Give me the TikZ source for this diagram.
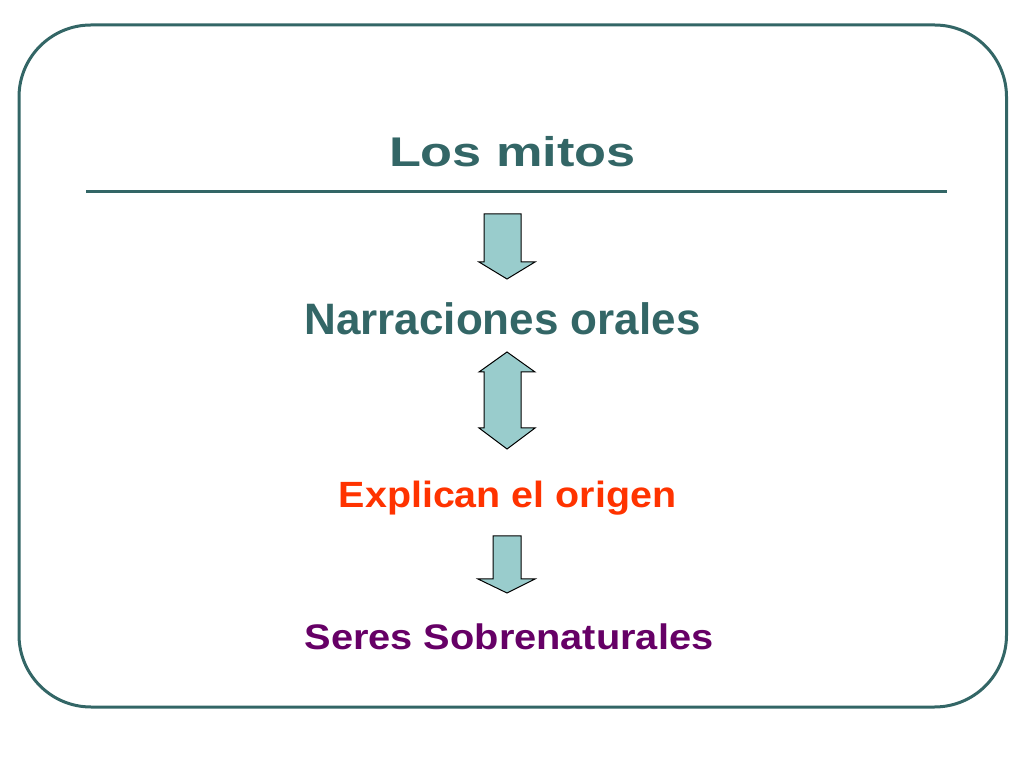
\documentclass[tikz,border=0pt]{standalone}
\usepackage{fontspec}
\setmainfont{Liberation Sans}
\usepackage{tikz}

\definecolor{tealdark}{HTML}{336666}
\definecolor{arrowfill}{HTML}{99CCCC}
\definecolor{redorange}{HTML}{FF3300}
\definecolor{plum}{HTML}{660066}

\tikzset{
  blockarrow/.style={fill=arrowfill, draw=black, line width=1pt, line join=miter},
  frameline/.style={draw=tealdark, line width=3pt},
  label/.style={anchor=base, inner sep=0pt, font=\bfseries}
}

\begin{document}
\begin{tikzpicture}[x=1pt,y=1pt]

	\useasboundingbox (0,0) rectangle (1024,768);
	\draw [frameline, rounded corners=72pt] (19,743) rectangle (1006.5,61);
	\draw [frameline] (86,576.5) -- (946.5,576.5);

	\node[label, text=tealdark] (mitos) at (512.5,601) {\fontsize{41.5}{48}\selectfont\scalebox{1.26}[1]{Los mitos}};
	\node[label, text=tealdark] (narr) at (502.5,433) {\fontsize{44}{52}\selectfont Narraciones orales};
	\node[label, text=redorange] (expl) at (507.5,260.7) {\fontsize{36.5}{42}\selectfont\scalebox{1.08}[1]{Explican el origen}};
	\node[label, text=plum] (seres) at (509,118.7) {\fontsize{35.5}{42}\selectfont\scalebox{1.12}[1]{Seres Sobrenaturales}};

	% arrows
	\draw [blockarrow] (484,554) -- (521,554) -- (521,506) -- (535,506) -- (507,489) -- (479,506) -- (484,506) -- cycle;
	\draw [blockarrow] (507,416) -- (535,396) -- (521,396) -- (521,340) -- (535,340) -- (507,319) -- (479,340) -- (484,340) -- (484,396) -- (479,396) -- cycle;
	\draw [blockarrow] (493,232) -- (521,232) -- (521,189) -- (535,189) -- (507,175) -- (478,189) -- (493,189) -- cycle;
\end{tikzpicture}
\end{document}
